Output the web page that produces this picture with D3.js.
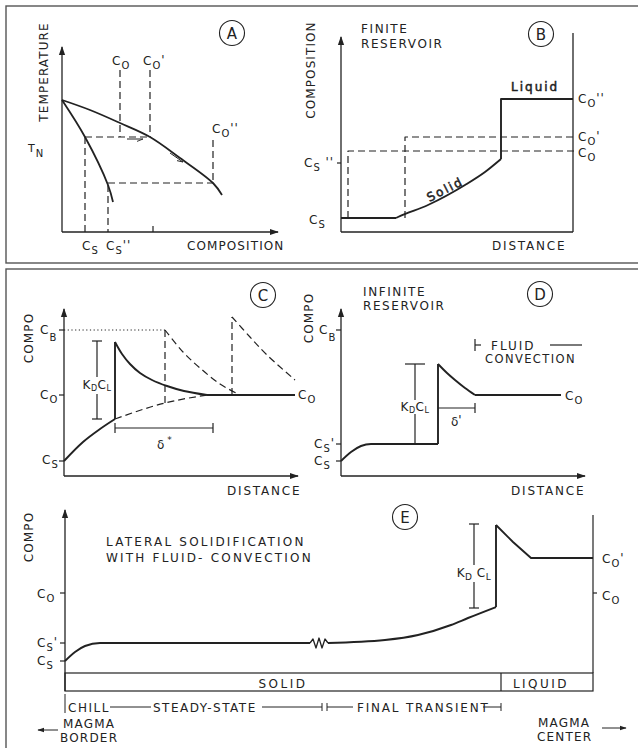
<!DOCTYPE html>
<html><head><meta charset="utf-8">
<script src="https://cdn.jsdelivr.net/npm/d3@7"></script>
<style>
body{margin:0;background:#fff}
svg{display:block}
text{font-family:"DejaVu Sans",sans-serif;fill:#222}
</style>
</head><body><svg id="c" width="638" height="748"></svg>
<script>
// ================= DATA (schematic units per panel) =================
// Panel A : phase diagram (composition vs temperature)
const aLiquidus = [[0,132],[28,122],[58,109],[88,95],[118,74],[151,49],[160,37]];
const aSolidus  = [[0,132],[23,95],[46,47],[51,30]];
const aComp = [23, 46, 58, 88, 151];           // Cs, Cs'', Co, Co', Co''
const aTemp = [95, 49];                         // TN, second tie line
const aDashed = [
  [[23,95],[88,95]], [[58,162],[58,95]], [[88,162],[88,95]],
  [[151,92],[151,49]], [[46,49],[151,49]],
  [[23,95],[23,0]], [[46,47],[46,0]]
];
const aArrows = [[[65,93],[81,93]], [[108,79],[121,70]]];

// Panel B : finite reservoir
const bSolidFlat  = [[0,14],[55,14]];
const bSolidCurve = [[55,14],[57,15],[87,27],[124,47],[144,60],[160,73]];
const bLiquid     = [[160,73],[160,133],[232,133]];
const bDashed = [ [[7,14],[7,81],[236,81]], [[64,14],[64,95],[236,95]] ];
const bLevels = [133, 95, 81];                  // Co'', Co', Co
const bCs2 = 69;

// Panel C : boundary-layer profiles
const cLevels = {CB:146, CO:81, CS:15};
const cRise   = [[0,15],[19,34],[36,47],[51,57]];
const cJump   = [[51,57],[51,134]];
const cDecay  = [[51,134],[58,122],[66,112],[76,103],[88,96],[103,90],[120,85],[143,81]];
const cFlat   = [[143,81],[231,81]];
const cDashRise = [[51,57],[101,73],[143,81]];
const cDash1 = [[101,73],[101,146]];
const cDecay1 = [[101,146],[119,124],[136,108],[156,92],[176,81]];
const cDash2 = [[168,81],[168,159]];
const cDecay2 = [[168,159],[186,139],[203,121],[231,96]];
const cKD = [[33,135],[33,99],[33,82],[33,57]];
const cDelta = [[51,48],[149,48]];

// Panel D : infinite reservoir
const dLevels = {CB:146, CS1:32, CS:15, CO:81};
const dStart = [[0,15],[10,24],[20,30],[30,32],[97,32]];
const dJump  = [[97,32],[97,112]];
const dDecay = [[97,112],[106,103],[114,96],[124,88],[134,81]];
const dFlat  = [[134,81],[220,81]];
const dKD = [[74,112],[74,76],[74,62],[74,32]];
const dDelta = [[97,68],[134,68]];

// Panel E : lateral solidification
const eLevels = {CO:98, CS1:48, CS:30, CO1:133};
const eStart = [[0,30],[10,39],[20,45],[35,48],[245,48]];
const eZig   = [[245,48],[248,52],[251,43],[254,53],[257,43],[260,52],[263,48]];
const eFinal = [[263,48],[320,51],[353,56],[386,66],[403,73],[431,84]];
const eJump  = [[431,84],[431,166]];
const eDecay = [[431,166],[448,149],[466,133],[528,133]];
const eKD = [[409,167],[409,126],[409,109],[409,83]];
const eSolidEnd = 436, eEnd = 528;

// ================= DRAWING =================
const svg = d3.select('#c');
svg.append('rect').attr('width',638).attr('height',748).attr('fill','#fff');
const defs = svg.append('defs');
defs.append('marker').attr('id','arr').attr('viewBox','0 0 10 10').attr('refX',9).attr('refY',5)
  .attr('markerWidth',7).attr('markerHeight',7).attr('orient','auto')
  .append('path').attr('d','M0,1.5L10,5L0,8.5Z').attr('fill','#222');
defs.append('marker').attr('id','half').attr('viewBox','0 0 10 10').attr('refX',10).attr('refY',5)
  .attr('markerWidth',6).attr('markerHeight',6).attr('orient','auto')
  .append('path').attr('d','M0,9L10,5').attr('stroke','#222').attr('stroke-width',1.5).attr('fill','none');

// outer frames
svg.append('rect').attr('x',6).attr('y',6).attr('width',660).attr('height',257)
  .attr('fill','none').attr('stroke','#555').attr('stroke-width',1.4);
svg.append('rect').attr('x',6).attr('y',269).attr('width',660).attr('height',500)
  .attr('fill','none').attr('stroke','#555').attr('stroke-width',1.4);

function panel(x0,y0,w,h){
  const x=d3.scaleLinear().domain([0,w]).range([x0,x0+w]);
  const y=d3.scaleLinear().domain([0,h]).range([y0,y0-h]);
  const g=svg.append('g');
  const line=(curve)=>d3.line().x(d=>x(d[0])).y(d=>y(d[1])).curve(curve||d3.curveLinear);
  const path=(pts,o={})=>g.append('path').attr('d',line(o.curve)(pts)).attr('fill','none')
      .attr('stroke','#222').attr('stroke-width',o.w||1.2)
      .attr('stroke-dasharray',o.dash||null).attr('marker-end',o.marker||null)
      .attr('stroke-linejoin','round');
  return {x,y,g,path,w,h};
}
function T(g,x,y,parts,o={}){
  const t=g.append('text').attr('x',x).attr('y',y).attr('font-size',o.fs||12)
    .attr('letter-spacing',o.ls==null?1:o.ls).attr('text-anchor',o.anchor||'start');
  if(o.bold) t.attr('stroke','#222').attr('stroke-width',0.5);
  if(o.rot) t.attr('transform',`rotate(${o.rot},${x},${y})`);
  let cur=0;
  for(const p of parts){
    const [s,sh,fs]= typeof p==='string'?[p,0,null]:[p[0],p[1]||0,p[2]];
    t.append('tspan').attr('dy',sh-cur).attr('font-size',fs||null).text(s);
    cur=sh;
  }
  return t;
}
function circleLabel(cx,cy,s){
  svg.append('circle').attr('cx',cx).attr('cy',cy).attr('r',12.5).attr('fill','none')
    .attr('stroke','#222').attr('stroke-width',1.1);
  svg.append('text').attr('x',cx).attr('y',cy+5.5).attr('text-anchor','middle')
    .attr('font-size',15).text(s);
}
const C  = (s)=>['C',[s,4,10]];
const Cp = (s,p)=>['C',[s,4,10],[p,-1,12]];
const DASH='7,4';

// ---------- Panel A ----------
{
  const P=panel(62,232,216,185);
  P.path([[0,0],[0,185]],{marker:'url(#arr)',w:1.3});
  P.path([[0,0],[216,0]],{marker:'url(#arr)',w:1.3});
  P.path([[91,0],[91,6]]);
  P.path(aLiquidus,{curve:d3.curveCatmullRom,w:1.8});
  P.path(aSolidus,{curve:d3.curveCatmullRom,w:1.8});
  aDashed.forEach(s=>P.path(s,{dash:DASH}));
  aArrows.forEach(s=>P.path(s,{marker:'url(#half)',w:1}));
  T(P.g,P.x(aComp[2])-8,65,C('O'));
  T(P.g,P.x(aComp[3])-7,65,Cp('O',"'"));
  T(P.g,P.x(aComp[4])-1,133,Cp('O',"''"));
  T(P.g,28,152,['T',['N',5,10]],{fs:11});
  T(P.g,P.x(aComp[0])-3,250,C('S'));
  T(P.g,P.x(aComp[1])-2,250,Cp('S',"''"));
  T(P.g,187,250,['COMPOSITION'],{ls:1.1});
  T(P.g,48,72,['TEMPERATURE'],{rot:-90,anchor:'middle',ls:1.1});
  circleLabel(232,33,'A');
}
// ---------- Panel B ----------
{
  const P=panel(341,232,232,199);
  P.path([[0,0],[0,195]],{marker:'url(#arr)',w:1.3});
  P.path([[0,0],[232,0]],{w:1.3});
  P.path([[232,0],[232,199]],{w:1.3});
  P.path([[-4,bCs2],[0,bCs2]]);
  bDashed.forEach(s=>P.path(s,{dash:DASH}));
  P.path(bSolidFlat,{w:1.9});
  P.path(bSolidCurve,{curve:d3.curveMonotoneX,w:1.9});
  P.path(bLiquid,{w:1.9});
  T(P.g,578,P.y(bLevels[0])+4,Cp('O',"''"));
  T(P.g,578,P.y(bLevels[1])+4,Cp('O',"'"));
  T(P.g,578,P.y(bLevels[2])+6,C('O'));
  T(P.g,304,P.y(bCs2)+4,['C',['S',4,10],[" ''",-1,12]]);
  T(P.g,309,P.y(14)+6,C('S'));
  T(P.g,361,33,['FINITE'],{ls:1.6});
  T(P.g,361,48,['RESERVOIR'],{ls:1.6});
  T(P.g,511,91,['Liquid'],{ls:2,bold:true,fs:12});
  T(P.g,447,193,['Solid'],{ls:2,bold:true,fs:12,rot:-27,anchor:'middle'});
  T(P.g,492,250,['DISTANCE'],{ls:1.8});
  T(P.g,315,70,['COMPOSITION'],{rot:-90,anchor:'middle',ls:1.1});
  circleLabel(541,34,'B');
}
// ---------- Panel C ----------
{
  const P=panel(64,476,234,167);
  P.path([[0,0],[0,167]],{marker:'url(#arr)',w:1.3});
  P.path([[0,0],[234,0]],{marker:'url(#arr)',w:1.3});
  [cLevels.CB,cLevels.CO,cLevels.CS].forEach(v=>P.path([[-5,v],[0,v]]));
  P.path([[0,cLevels.CB],[101,cLevels.CB]],{dash:'1.2,2.5',w:1});
  P.path(cRise,{curve:d3.curveMonotoneX,w:1.9});
  P.path(cJump,{w:1.9});
  P.path(cDecay,{curve:d3.curveCatmullRom,w:1.9});
  P.path(cFlat,{w:1.9});
  P.path(cDashRise,{curve:d3.curveMonotoneX,dash:DASH});
  P.path(cDash1,{dash:DASH});
  P.path(cDecay1,{curve:d3.curveCatmullRom,dash:DASH});
  P.path(cDash2,{dash:DASH});
  P.path(cDecay2,{curve:d3.curveCatmullRom,dash:DASH});
  // K_D C_L bar
  P.path([cKD[0],cKD[1]]); P.path([cKD[2],cKD[3]]);
  P.path([[cKD[0][0]-5,cKD[0][1]],[cKD[0][0]+5,cKD[0][1]]]);
  P.path([[cKD[3][0]-5,cKD[3][1]],[cKD[3][0]+5,cKD[3][1]]]);
  T(P.g,P.x(33),389,['K',['D',2,8],['C',0],['L',2,8]],{anchor:'middle',ls:0.5});
  // delta bar
  P.path(cDelta);
  cDelta.forEach(d=>P.path([[d[0],d[1]-5],[d[0],d[1]+5]]));
  T(P.g,157,449,['δ',[' *',-6,9]],{ls:0,fs:12});
  T(P.g,40,334,['C',['B',7,10]]);
  T(P.g,40,399,C('O'));
  T(P.g,42,464,C('S'));
  T(P.g,298,399,C('O'));
  T(P.g,227,495,['DISTANCE'],{ls:1.8});
  T(P.g,33,338,['COMPO'],{rot:-90,anchor:'middle',ls:1.1});
  circleLabel(263,295,'C');
}
// ---------- Panel D ----------
{
  const P=panel(341,476,244,167);
  P.path([[0,0],[0,167]],{marker:'url(#arr)',w:1.3});
  P.path([[0,0],[244,0]],{marker:'url(#arr)',w:1.3});
  [dLevels.CB,dLevels.CS1,dLevels.CS].forEach(v=>P.path([[-5,v],[0,v]]));
  P.path(dStart,{curve:d3.curveMonotoneX,w:1.9});
  P.path(dJump,{w:1.9});
  P.path(dDecay,{curve:d3.curveCatmullRom,w:1.9});
  P.path(dFlat,{w:1.9});
  P.path([dKD[0],dKD[1]]); P.path([dKD[2],dKD[3]]);
  P.path([[dKD[0][0]-10,dKD[0][1]],[dKD[0][0]+10,dKD[0][1]]]);
  T(P.g,P.x(74),411,['K',['D',2,8],['C',0],['L',2,8]],{anchor:'middle',ls:0.5});
  P.path(dDelta);
  P.path([[dDelta[1][0],dDelta[1][1]-5],[dDelta[1][0],dDelta[1][1]+5]]);
  T(P.g,451,426,['δ',["'",-2]],{ls:0});
  // fluid convection bracket
  P.path([[134,125],[134,137]]); P.path([[134,131],[140,131]]); P.path([[209,131],[241,131]]);
  T(P.g,491,350,['FLUID'],{ls:2});
  T(P.g,485,363,['CONVECTION'],{ls:1.4,fs:11.5});
  T(P.g,565,400,C('O'));
  T(P.g,319,334,['C',['B',7,10]]);
  T(P.g,314,448,Cp('S',"'"));
  T(P.g,314,465,C('S'));
  T(P.g,511,495,['DISTANCE'],{ls:1.8});
  T(P.g,313,318,['COMPO'],{rot:-90,anchor:'middle',ls:1.1});
  T(P.g,363,296,['INFINITE'],{ls:1.6});
  T(P.g,363,310,['RESERVOIR'],{ls:1.6});
  circleLabel(540,294,'D');
}
// ---------- Panel E ----------
{
  const P=panel(65,691,528,181);
  P.path([[0,0],[0,181]],{marker:'url(#arr)',w:1.3});
  P.g.append('rect').attr('x',P.x(0)).attr('y',P.y(18)).attr('width',P.x(eEnd)-P.x(0))
    .attr('height',P.y(0)-P.y(18)).attr('fill','none').attr('stroke','#222').attr('stroke-width',1.2);
  P.path([[eSolidEnd,0],[eSolidEnd,18]]);
  P.path([[eEnd,18],[eEnd,176]],{w:1.2});
  [eLevels.CO,eLevels.CS1,eLevels.CS].forEach(v=>P.path([[-5,v],[0,v]]));
  P.path([[eEnd,eLevels.CO],[eEnd+4,eLevels.CO]]);
  P.path(eStart,{curve:d3.curveMonotoneX,w:1.9});
  P.path(eZig,{w:1.3});
  P.path(eFinal,{curve:d3.curveMonotoneX,w:1.9});
  P.path(eJump,{w:1.9});
  P.path(eDecay,{w:1.9});
  P.path([eKD[0],eKD[1]]); P.path([eKD[2],eKD[3]]);
  P.path([[eKD[0][0]-5,eKD[0][1]],[eKD[0][0]+5,eKD[0][1]]]);
  P.path([[eKD[3][0]-5,eKD[3][1]],[eKD[3][0]+5,eKD[3][1]]]);
  T(P.g,P.x(409),577,['K',['D',3,9],[' C',0],['L',3,9]],{anchor:'middle',ls:0.5});
  T(P.g,37,598,C('O'));
  T(P.g,37,647,Cp('S',"'"));
  T(P.g,37,665,C('S'));
  T(P.g,602,563,Cp('O',"'"));
  T(P.g,602,600,C('O'));
  T(P.g,106,546,['LATERAL SOLIDIFICATION'],{ls:2.2});
  T(P.g,106,562,['WITH FLUID- CONVECTION'],{ls:2.2});
  T(P.g,33,537,['COMPO'],{rot:-90,anchor:'middle',ls:1.1});
  T(P.g,(P.x(0)+P.x(eSolidEnd))/2,688,['SOLID'],{anchor:'middle',ls:2.5});
  T(P.g,(P.x(eSolidEnd)+P.x(eEnd))/2-6,688,['LIQUID'],{anchor:'middle',ls:2.5});
  // bottom annotation
  const yb=707;
  svg.append('line').attr('x1',65).attr('x2',65).attr('y1',694).attr('y2',713).attr('stroke','#222');
  T(svg,68,712,['CHILL'],{ls:1.5});
  const seg=(x1,x2)=>svg.append('line').attr('x1',x1).attr('x2',x2).attr('y1',yb).attr('y2',yb).attr('stroke','#222');
  const bar=(x)=>svg.append('line').attr('x1',x).attr('x2',x).attr('y1',yb-4).attr('y2',yb+4).attr('stroke','#222');
  seg(110,151); seg(262,322); bar(322); bar(327); seg(327,353); seg(483,501); bar(501);
  T(svg,153,712,['STEADY-STATE'],{ls:1.5});
  T(svg,357,712,['FINAL TRANSIENT'],{ls:1.8});
  svg.append('line').attr('x1',58).attr('x2',38).attr('y1',730).attr('y2',730).attr('stroke','#222').attr('marker-end','url(#arr)');
  T(svg,63,728,['MAGMA'],{ls:1.2});
  T(svg,60,742,['BORDER'],{ls:1.2});
  T(svg,538,727,['MAGMA'],{ls:1.2});
  T(svg,537,741,['CENTER'],{ls:1.2});
  svg.append('line').attr('x1',602).attr('x2',626).attr('y1',728).attr('y2',728).attr('stroke','#222').attr('marker-end','url(#arr)');
  circleLabel(405,517,'E');
}
</script>
</body></html>
